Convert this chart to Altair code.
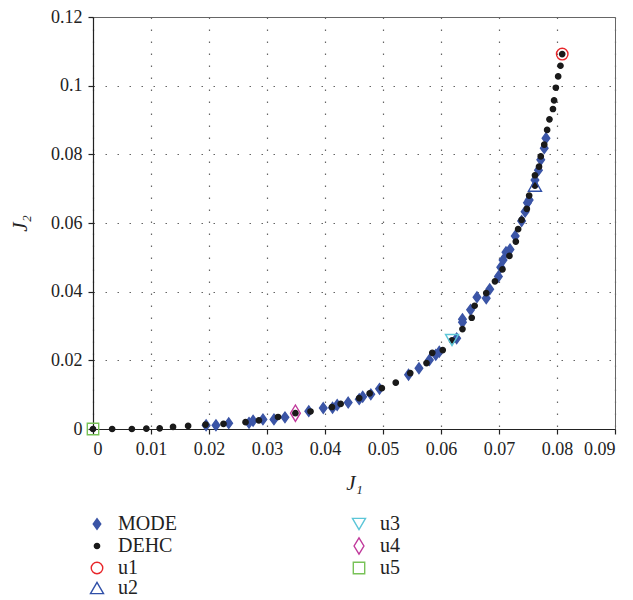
import altair as alt
import pandas as pd

# DEHC (black dots)
dehc_x = [0.0, 0.0033, 0.0067, 0.0092, 0.0115, 0.0138, 0.0164, 0.0194, 0.0225, 0.0263,
          0.0286, 0.0319, 0.0349, 0.0375, 0.0412, 0.0427, 0.0459, 0.0477, 0.0498, 0.0522,
          0.0547, 0.0575, 0.0585, 0.0603, 0.0619, 0.0637, 0.0653, 0.0658, 0.0678, 0.0693,
          0.0706, 0.0718, 0.0729, 0.0733, 0.0739, 0.0748, 0.0752, 0.0762, 0.0762, 0.0769,
          0.0772, 0.0778, 0.0783, 0.0787, 0.0793, 0.0795, 0.0798, 0.0802, 0.0806, 0.0809]
dehc_y = [0.0, 0.0, 0.0, 0.0001, 0.0002, 0.0006, 0.0009, 0.0013, 0.0015, 0.0020,
          0.0025, 0.0035, 0.0046, 0.0051, 0.0064, 0.0073, 0.0090, 0.0104, 0.0119, 0.0135,
          0.0163, 0.0192, 0.0222, 0.0230, 0.0258, 0.0291, 0.0324, 0.0359, 0.0396, 0.0430,
          0.0465, 0.0504, 0.0546, 0.0582, 0.0609, 0.0641, 0.0680, 0.0709, 0.0739, 0.0764,
          0.0794, 0.0828, 0.0871, 0.0902, 0.0932, 0.0957, 0.0994, 0.1027, 0.1058, 0.1092]

# MODE (blue diamonds)
mode_x = [0.0195, 0.0212, 0.0234, 0.0269, 0.0276, 0.0293, 0.0312, 0.0331, 0.0372, 0.0397,
          0.0413, 0.0421, 0.0440, 0.0459, 0.0465, 0.0479, 0.0494, 0.0544, 0.0562, 0.0580,
          0.0591, 0.0597, 0.0627, 0.0637, 0.0637, 0.0651, 0.0662, 0.0678, 0.0684, 0.0699,
          0.0703, 0.0707, 0.0712, 0.0719, 0.0728, 0.0739, 0.0745, 0.0749, 0.0752, 0.0762,
          0.0768, 0.0772, 0.0778, 0.0781]
mode_y = [0.0011, 0.0011, 0.0017, 0.0018, 0.0024, 0.0028, 0.0028, 0.0034, 0.0052, 0.0061,
          0.0062, 0.0070, 0.0077, 0.0087, 0.0094, 0.0101, 0.0117, 0.0158, 0.0177, 0.0201,
          0.0216, 0.0225, 0.0264, 0.0311, 0.0320, 0.0347, 0.0384, 0.0381, 0.0407, 0.0444,
          0.0471, 0.0492, 0.0515, 0.0523, 0.0562, 0.0606, 0.0633, 0.0659, 0.0667, 0.0725,
          0.0754, 0.0784, 0.0818, 0.0847]

# selected solutions
u_names = ["u1", "u2", "u3", "u4", "u5"]
u_x = [0.0809, 0.0762, 0.0619, 0.0349, 0.0]
u_y = [0.1092, 0.0709, 0.0259, 0.0046, 0.0]

x_ticks = [0, 0.01, 0.02, 0.03, 0.04, 0.05, 0.06, 0.07, 0.08, 0.09]
y_ticks = [0, 0.02, 0.04, 0.06, 0.08, 0.1, 0.12]

rows = []
for x, y in zip(mode_x, mode_y):
    rows.append({"J1": x, "J2": y, "series": "MODE"})
for x, y in zip(dehc_x, dehc_y):
    rows.append({"J1": x, "J2": y, "series": "DEHC"})
for n, x, y in zip(u_names, u_x, u_y):
    rows.append({"J1": x, "J2": y, "series": n})
df = pd.DataFrame(rows)

domain = ["MODE", "DEHC", "u1", "u2", "u3", "u4", "u5"]
shape_map = {
    "MODE": "M0,-1L0.72,0L0,1L-0.72,0Z",
    "DEHC": "circle",
    "u1": "circle",
    "u2": "triangle-up",
    "u3": "triangle-down",
    "u4": "M0,-1L0.6,0L0,1L-0.6,0Z",
    "u5": "square",
}
stroke_map = {
    "MODE": "#3b55a6", "DEHC": "#1a1a1a", "u1": "#e8262a", "u2": "#3050a8",
    "u3": "#5cc6d8", "u4": "#c0399b", "u5": "#78c257",
}
fill_map = {
    "MODE": "#3b55a6", "DEHC": "#1a1a1a", "u1": "transparent", "u2": "transparent",
    "u3": "transparent", "u4": "transparent", "u5": "transparent",
}
size_map = {"MODE": 110, "DEHC": 28, "u1": 133, "u2": 170, "u3": 170, "u4": 270, "u5": 130}

legend = alt.Legend(
    title=None, orient="none", legendX=-6, legendY=497, columns=2,
    columnPadding=172, rowPadding=0, labelFont="Liberation Serif", labelFontSize=20,
    labelColor="#222", labelOffset=11, padding=0, symbolStrokeWidth=1.4,
)

chart = alt.Chart(df).mark_point(filled=True, opacity=1, strokeWidth=1.4).encode(
    x=alt.X("J1:Q", scale=alt.Scale(domain=[0, 0.09], nice=False),
            axis=alt.Axis(values=x_ticks, format=".2~f", title="J₁")),
    y=alt.Y("J2:Q", scale=alt.Scale(domain=[0, 0.12], nice=False),
            axis=alt.Axis(values=y_ticks, format=".2~f", title="J₂")),
    shape=alt.Shape("series:N", scale=alt.Scale(type="ordinal", domain=domain, range=[shape_map[d] for d in domain]), legend=legend),
    stroke=alt.Stroke("series:N", scale=alt.Scale(type="ordinal", domain=domain, range=[stroke_map[d] for d in domain]), legend=legend),
    fill=alt.Fill("series:N", scale=alt.Scale(type="ordinal", domain=domain, range=[fill_map[d] for d in domain]), legend=legend),
    size=alt.Size("series:N", scale=alt.Scale(type="ordinal", domain=domain, range=[size_map[d] for d in domain]), legend=legend),
).properties(
    width=522, height=412,
    autosize=alt.AutoSizeParams(type="none"),
    padding={"left": 85, "top": 9, "right": 10, "bottom": 174},
).configure_view(
    stroke="#666", strokeWidth=1
).configure_axis(
    labelFont="Liberation Serif", labelFontSize=18, labelColor="#222",
    titleFont="Liberation Serif", titleFontSize=21, titleFontStyle="italic",
    titleFontWeight="normal", titleColor="#222",
    domainColor="#222", domainWidth=1.2, tickColor="#222", tickSize=5, tickWidth=1.2,
    grid=True, gridColor="#666", gridDash=[1.5, 10.5], gridWidth=1.2,
    labelPadding=6,
).configure_axisX(titlePadding=14).configure_axisY(titlePadding=20)

chart.save("out.html", embed_options={"renderer": "svg", "actions": False})
